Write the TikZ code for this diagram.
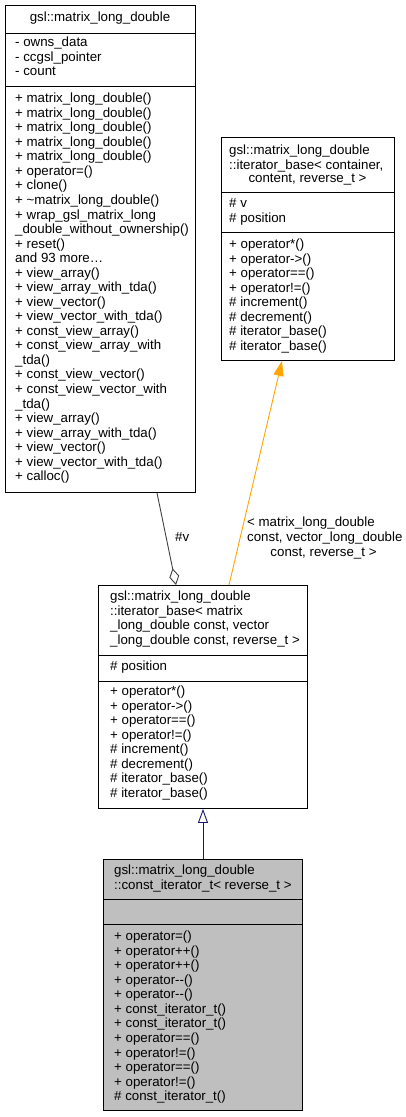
\documentclass[tikz,border=0pt]{standalone}
\usepackage{fontspec}
\setmainfont{Liberation Sans}
\usetikzlibrary{arrows.meta,calc}
\definecolor{edgegray}{HTML}{404040}
\definecolor{inhblue}{HTML}{191970}
\definecolor{tmplorange}{HTML}{FFA500}
\definecolor{boxgray}{HTML}{BFBFBF}
\tikzset{
  umlbox/.style={draw=black, line width=0.9pt, inner sep=0pt, anchor=north west},
  sepline/.style={draw=black, line width=0.9pt},
  txt/.style={inner sep=0pt, anchor=north west, align=left, font=\fontsize{13.3}{14.54}\selectfont},
  ctxt/.style={inner sep=0pt, anchor=base, font=\fontsize{13.3}{14.54}\selectfont},
}
\begin{document}
\begin{tikzpicture}[x=1pt,y=-1pt]
\useasboundingbox (0,0) rectangle (406,1117);

% ---------- Box A ----------
\node[umlbox, minimum width=190pt, minimum height=487pt] (A) at (5,5) {};
\draw[sepline] ($(A.north west)+(0,28)$) -- ($(A.north east)+(0,28)$);
\draw[sepline] ($(A.north west)+(0,81)$) -- ($(A.north east)+(0,81)$);
\node[ctxt] (Atitle) at (100,21.5) {gsl::matrix\_long\_double};
\node[txt] (Aattr) at (15,36.3) {\strut- owns\_data\\- ccgsl\_pointer\\- count};
\node[txt] (Ameth) at (15,92.3) {\strut+ matrix\_long\_double()\\
+ matrix\_long\_double()\\
+ matrix\_long\_double()\\
+ matrix\_long\_double()\\
+ matrix\_long\_double()\\
+ operator=()\\
+ clone()\\
+ \textasciitilde matrix\_long\_double()\\
+ wrap\_gsl\_matrix\_long\\
\_double\_without\_ownership()\\
+ reset()\\
and 93 more…\\
+ view\_array()\\
+ view\_array\_with\_tda()\\
+ view\_vector()\\
+ view\_vector\_with\_tda()\\
+ const\_view\_array()\\
+ const\_view\_array\_with\\
\_tda()\\
+ const\_view\_vector()\\
+ const\_view\_vector\_with\\
\_tda()\\
+ view\_array()\\
+ view\_array\_with\_tda()\\
+ view\_vector()\\
+ view\_vector\_with\_tda()\\
+ calloc()};

% ---------- Box B ----------
\node[umlbox, minimum width=173pt, minimum height=223pt] (B) at (221,137) {};
\draw[sepline] ($(B.north west)+(0,55)$) -- ($(B.north east)+(0,55)$);
\draw[sepline] ($(B.north west)+(0,95)$) -- ($(B.north east)+(0,95)$);
\node[txt] (Btitle) at (229,144.3) {\strut gsl::matrix\_long\_double\\::iterator\_base< container,};
\node[ctxt] (Btitle2) at (307.5,182.5) {content, reverse\_t >};
\node[txt] (Battr) at (229,197.3) {\strut\# v\\\# position};
\node[txt] (Bmeth) at (229,238.3) {\strut+ operator*()\\
+ operator->()\\
+ operator==()\\
+ operator!=()\\
\# increment()\\
\# decrement()\\
\# iterator\_base()\\
\# iterator\_base()};

% ---------- Box C ----------
\node[umlbox, minimum width=209pt, minimum height=223pt] (C) at (98,585) {};
\draw[sepline] ($(C.north west)+(0,70)$) -- ($(C.north east)+(0,70)$);
\draw[sepline] ($(C.north west)+(0,96)$) -- ($(C.north east)+(0,96)$);
\node[txt] (Ctitle) at (110,590.3) {\strut gsl::matrix\_long\_double\\::iterator\_base< matrix\\\_long\_double const, vector\\\_long\_double const, reverse\_t >};
\node[txt] (Cattr) at (110,660.3) {\strut\# position};
\node[txt] (Cmeth) at (110,685.3) {\strut+ operator*()\\
+ operator->()\\
+ operator==()\\
+ operator!=()\\
\# increment()\\
\# decrement()\\
\# iterator\_base()\\
\# iterator\_base()};

% ---------- Box D ----------
\node[umlbox, fill=boxgray, minimum width=199pt, minimum height=251pt] (D) at (103,859) {};
\draw[sepline] ($(D.north west)+(0,40)$) -- ($(D.north east)+(0,40)$);
\draw[sepline] ($(D.north west)+(0,65)$) -- ($(D.north east)+(0,65)$);
\node[txt] (Dtitle) at (114,864.3) {\strut gsl::matrix\_long\_double\\::const\_iterator\_t< reverse\_t >};
\node[txt] (Dmeth) at (114,930.3) {\strut+ operator=()\\
+ operator++()\\
+ operator++()\\
+ operator-{}-()\\
+ operator-{}-()\\
+ const\_iterator\_t()\\
+ const\_iterator\_t()\\
+ operator==()\\
+ operator!=()\\
+ operator==()\\
+ operator!=()\\
\# const\_iterator\_t()};

% ---------- Connectors ----------
\coordinate (a1) at ($(A.south west)+(152,0)$);
\coordinate (c1) at ($(C.north west)+(78,0)$);
\coordinate (c2) at ($(C.north west)+(131,0)$);
\coordinate (b1) at ($(B.south west)+(61,0)$);
\coordinate (d1) at ($(D.north west)+(100,0)$);
\coordinate (c3) at ($(C.south west)+(105,0)$);

\draw[edgegray, line width=0.9pt, -{Diamond[open, fill=white, length=17pt, width=10pt]}] (a1) -- (c1);
\draw[tmplorange, line width=0.9pt, -{Triangle[length=15pt, width=10pt]}] (c2) -- (b1);
\draw[inhblue, line width=0.9pt, -{Triangle[open, fill=white, length=14pt, width=10pt]}] (d1) -- (c3);

\node[ctxt, anchor=base west] (lblv) at (175,541.5) {\#v};
\node[txt] (lblo) at (247,516.3) {\strut< matrix\_long\_double\\const, vector\_long\_double};
\node[ctxt] (lblo2) at (323.5,556.5) {const, reverse\_t >};
\end{tikzpicture}
\end{document}
